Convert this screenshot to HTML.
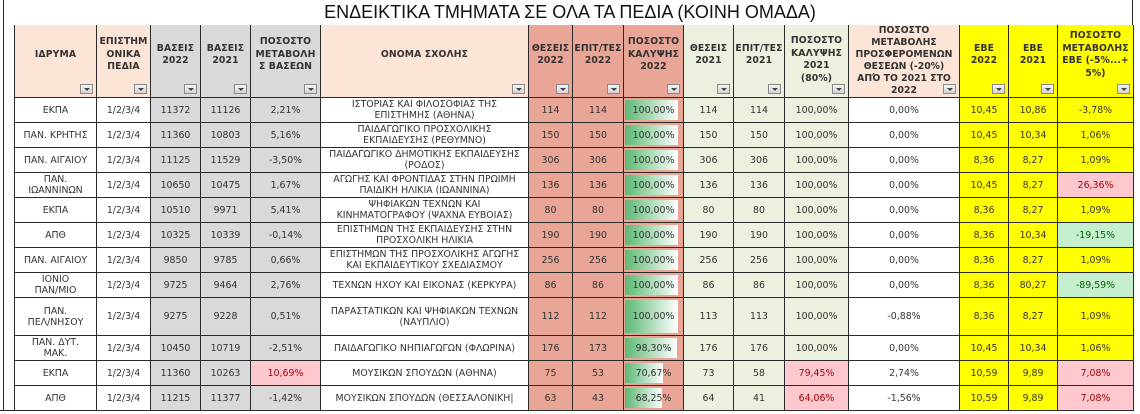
<!DOCTYPE html>
<html><head><meta charset="utf-8"><style>
*{margin:0;padding:0;box-sizing:border-box}
body{width:1140px;height:414px;background:#fff;position:relative;overflow:hidden;font-family:"DejaVu Sans","Liberation Sans",sans-serif;color:#333}
.title{position:absolute;left:0;width:1140px;top:2px;text-align:center;font-family:"Liberation Sans",sans-serif;font-size:18px;color:#111}
.lb{position:absolute;left:3px;top:0;width:1px;height:411px;background:#222}
.bt{position:absolute;left:0;top:410px;width:16px;height:1px;background:#222}
.rb{position:absolute;left:1132px;top:0;width:1px;height:26px;background:#222}
table{position:absolute;left:14px;top:25px;border-collapse:collapse;table-layout:fixed}
td{border:1px solid #2a2a2a;text-align:center;vertical-align:middle;font-size:9.4px;line-height:11px;height:25px;padding:0 1px;overflow:hidden;white-space:nowrap}
thead td{border-top:none;height:72px;font-weight:bold;font-size:9.3px;line-height:12.5px;position:relative;padding:0 0 12px;color:#333;letter-spacing:0.1px}
.ar{position:absolute;right:3px;bottom:3px;width:13px;height:10px;background:linear-gradient(#f4f4f4,#d4d4d4);border:1px solid #8a8a8a}
.ar:after{content:"";position:absolute;left:3px;top:3px;border-left:3px solid transparent;border-right:3px solid transparent;border-top:3px solid #444}
.pe{background:#fce4d6}.gr{background:#d9d9d9}.sa{background:#e9a595}.lg{background:#ebf1de}.ye{background:#ffff00}.wh{background:#fff}
.pk{background:#ffc7ce;color:#9c0006}.gn{background:#c6efce;color:#006100}
td.bar{position:relative;padding:0}
.bar i{position:absolute;left:1px;top:2px;bottom:2px;background:linear-gradient(90deg,#5cb874,#ffffff)}
.bar span{position:relative}
td.w{line-height:11px}
tr.tall td{height:38px}
</style></head><body>
<div class="title">ΕΝΔΕΙΚΤΙΚΑ ΤΜΗΜΑΤΑ ΣΕ ΟΛΑ ΤΑ ΠΕΔΙΑ (ΚΟΙΝΗ ΟΜΑΔΑ)</div>
<div class="lb"></div><div class="bt"></div><div class="rb"></div>
<table>
<colgroup><col style="width:82px"><col style="width:54px"><col style="width:50px"><col style="width:50px"><col style="width:70px"><col style="width:208px"><col style="width:44px"><col style="width:51px"><col style="width:60px"><col style="width:50px"><col style="width:51px"><col style="width:64px"><col style="width:111px"><col style="width:49px"><col style="width:49px"><col style="width:76px"></colgroup>
<thead><tr>
<td class="pe">ΙΔΡΥΜΑ<div class="ar"></div></td>
<td class="pe">ΕΠΙΣΤΗΜ<br>ΟΝΙΚΑ<br>ΠΕΔΙΑ<div class="ar"></div></td>
<td class="gr">ΒΑΣΕΙΣ<br>2022<div class="ar"></div></td>
<td class="gr">ΒΑΣΕΙΣ<br>2021<div class="ar"></div></td>
<td class="gr">ΠΟΣΟΣΤΟ<br>ΜΕΤΑΒΟΛΗ<br>Σ ΒΑΣΕΩΝ<div class="ar"></div></td>
<td class="pe">ΟΝΟΜΑ ΣΧΟΛΗΣ<div class="ar"></div></td>
<td class="sa">ΘΕΣΕΙΣ<br>2022<div class="ar"></div></td>
<td class="sa">ΕΠΙΤ/ΤΕΣ<br>2022<div class="ar"></div></td>
<td class="sa">ΠΟΣΟΣΤΟ<br>ΚΑΛΥΨΗΣ<br>2022<div class="ar"></div></td>
<td class="lg">ΘΕΣΕΙΣ<br>2021<div class="ar"></div></td>
<td class="lg">ΕΠΙΤ/ΤΕΣ<br>2021<div class="ar"></div></td>
<td class="lg" style="padding-bottom:2px">ΠΟΣΟΣΤΟ<br>ΚΑΛΥΨΗΣ<br>2021<br>(80%)<div class="ar"></div></td>
<td class="pe" style="padding-bottom:0;line-height:12px;letter-spacing:0">ΠΟΣΟΣΤΟ<br>ΜΕΤΑΒΟΛΗΣ<br>ΠΡΟΣΦΕΡΟΜΕΝΩΝ<br>ΘΕΣΕΩΝ (-20%)<br>ΑΠΌ ΤΟ 2021 ΣΤΟ<br>2022<div class="ar"></div></td>
<td class="ye">ΕΒΕ<br>2022<div class="ar"></div></td>
<td class="ye">ΕΒΕ<br>2021<div class="ar"></div></td>
<td class="ye">ΠΟΣΟΣΤΟ<br>ΜΕΤΑΒΟΛΗΣ<br>ΕΒΕ (-5%...+<br>5%)<div class="ar"></div></td>
</tr></thead>
<tbody>
<tr><td class="wh">ΕΚΠΑ</td><td class="wh">1/2/3/4</td><td class="gr">11372</td><td class="gr">11126</td><td class="gr">2,21%</td><td class="wh w">ΙΣΤΟΡΙΑΣ ΚΑΙ ΦΙΛΟΣΟΦΙΑΣ ΤΗΣ<br>ΕΠΙΣΤΗΜΗΣ (ΑΘΗΝΑ)</td><td class="sa">114</td><td class="sa">114</td><td class="sa bar"><i style="width:53px"></i><span>100,00%</span></td><td class="lg">114</td><td class="lg">114</td><td class="lg">100,00%</td><td class="wh">0,00%</td><td class="ye">10,45</td><td class="ye">10,86</td><td class="ye">-3,78%</td></tr>
<tr><td class="wh">ΠΑΝ. ΚΡΗΤΗΣ</td><td class="wh">1/2/3/4</td><td class="gr">11360</td><td class="gr">10803</td><td class="gr">5,16%</td><td class="wh w">ΠΑΙΔΑΓΩΓΙΚΟ ΠΡΟΣΧΟΛΙΚΗΣ<br>ΕΚΠΑΙΔΕΥΣΗΣ (ΡΕΘΥΜΝΟ)</td><td class="sa">150</td><td class="sa">150</td><td class="sa bar"><i style="width:53px"></i><span>100,00%</span></td><td class="lg">150</td><td class="lg">150</td><td class="lg">100,00%</td><td class="wh">0,00%</td><td class="ye">10,45</td><td class="ye">10,34</td><td class="ye">1,06%</td></tr>
<tr><td class="wh">ΠΑΝ. ΑΙΓΑΙΟΥ</td><td class="wh">1/2/3/4</td><td class="gr">11125</td><td class="gr">11529</td><td class="gr">-3,50%</td><td class="wh w">ΠΑΙΔΑΓΩΓΙΚΟ ΔΗΜΟΤΙΚΗΣ ΕΚΠΑΙΔΕΥΣΗΣ<br>(ΡΟΔΟΣ)</td><td class="sa">306</td><td class="sa">306</td><td class="sa bar"><i style="width:53px"></i><span>100,00%</span></td><td class="lg">306</td><td class="lg">306</td><td class="lg">100,00%</td><td class="wh">0,00%</td><td class="ye">8,36</td><td class="ye">8,27</td><td class="ye">1,09%</td></tr>
<tr><td class="wh w">ΠΑΝ.<br>ΙΩΑΝΝΙΝΩΝ</td><td class="wh">1/2/3/4</td><td class="gr">10650</td><td class="gr">10475</td><td class="gr">1,67%</td><td class="wh w">ΑΓΩΓΗΣ ΚΑΙ ΦΡΟΝΤΙΔΑΣ ΣΤΗΝ ΠΡΩΙΜΗ<br>ΠΑΙΔΙΚΗ ΗΛΙΚΙΑ (ΙΩΑΝΝΙΝΑ)</td><td class="sa">136</td><td class="sa">136</td><td class="sa bar"><i style="width:53px"></i><span>100,00%</span></td><td class="lg">136</td><td class="lg">136</td><td class="lg">100,00%</td><td class="wh">0,00%</td><td class="ye">10,45</td><td class="ye">8,27</td><td class="pk">26,36%</td></tr>
<tr><td class="wh">ΕΚΠΑ</td><td class="wh">1/2/3/4</td><td class="gr">10510</td><td class="gr">9971</td><td class="gr">5,41%</td><td class="wh w">ΨΗΦΙΑΚΩΝ ΤΕΧΝΩΝ ΚΑΙ<br>ΚΙΝΗΜΑΤΟΓΡΑΦΟΥ (ΨΑΧΝΑ ΕΥΒΟΙΑΣ)</td><td class="sa">80</td><td class="sa">80</td><td class="sa bar"><i style="width:53px"></i><span>100,00%</span></td><td class="lg">80</td><td class="lg">80</td><td class="lg">100,00%</td><td class="wh">0,00%</td><td class="ye">8,36</td><td class="ye">8,27</td><td class="ye">1,09%</td></tr>
<tr><td class="wh">ΑΠΘ</td><td class="wh">1/2/3/4</td><td class="gr">10325</td><td class="gr">10339</td><td class="gr">-0,14%</td><td class="wh w">ΕΠΙΣΤΗΜΩΝ ΤΗΣ ΕΚΠΑΙΔΕΥΣΗΣ ΣΤΗΝ<br>ΠΡΟΣΧΟΛΙΚΗ ΗΛΙΚΙΑ</td><td class="sa">190</td><td class="sa">190</td><td class="sa bar"><i style="width:53px"></i><span>100,00%</span></td><td class="lg">190</td><td class="lg">190</td><td class="lg">100,00%</td><td class="wh">0,00%</td><td class="ye">8,36</td><td class="ye">10,34</td><td class="gn">-19,15%</td></tr>
<tr><td class="wh">ΠΑΝ. ΑΙΓΑΙΟΥ</td><td class="wh">1/2/3/4</td><td class="gr">9850</td><td class="gr">9785</td><td class="gr">0,66%</td><td class="wh w">ΕΠΙΣΤΗΜΩΝ ΤΗΣ ΠΡΟΣΧΟΛΙΚΗΣ ΑΓΩΓΗΣ<br>ΚΑΙ ΕΚΠΑΙΔΕΥΤΙΚΟΥ ΣΧΕΔΙΑΣΜΟΥ</td><td class="sa">256</td><td class="sa">256</td><td class="sa bar"><i style="width:53px"></i><span>100,00%</span></td><td class="lg">256</td><td class="lg">256</td><td class="lg">100,00%</td><td class="wh">0,00%</td><td class="ye">8,36</td><td class="ye">8,27</td><td class="ye">1,09%</td></tr>
<tr><td class="wh w">ΙΟΝΙΟ<br>ΠΑΝ/ΜΙΟ</td><td class="wh">1/2/3/4</td><td class="gr">9725</td><td class="gr">9464</td><td class="gr">2,76%</td><td class="wh">ΤΕΧΝΩΝ ΗΧΟΥ ΚΑΙ ΕΙΚΟΝΑΣ (ΚΕΡΚΥΡΑ)</td><td class="sa">86</td><td class="sa">86</td><td class="sa bar"><i style="width:53px"></i><span>100,00%</span></td><td class="lg">86</td><td class="lg">86</td><td class="lg">100,00%</td><td class="wh">0,00%</td><td class="ye">8,36</td><td class="ye">80,27</td><td class="gn">-89,59%</td></tr>
<tr class="tall"><td class="wh w">ΠΑΝ.<br>ΠΕΛ/ΝΗΣΟΥ</td><td class="wh">1/2/3/4</td><td class="gr">9275</td><td class="gr">9228</td><td class="gr">0,51%</td><td class="wh w">ΠΑΡΑΣΤΑΤΙΚΩΝ ΚΑΙ ΨΗΦΙΑΚΩΝ ΤΕΧΝΩΝ<br>(ΝΑΥΠΛΙΟ)</td><td class="sa">112</td><td class="sa">112</td><td class="sa bar"><i style="width:53px"></i><span>100,00%</span></td><td class="lg">113</td><td class="lg">113</td><td class="lg">100,00%</td><td class="wh">-0,88%</td><td class="ye">8,36</td><td class="ye">8,27</td><td class="ye">1,09%</td></tr>
<tr><td class="wh w">ΠΑΝ. ΔΥΤ.<br>ΜΑΚ.</td><td class="wh">1/2/3/4</td><td class="gr">10450</td><td class="gr">10719</td><td class="gr">-2,51%</td><td class="wh">ΠΑΙΔΑΓΩΓΙΚΟ ΝΗΠΙΑΓΩΓΩΝ (ΦΛΩΡΙΝΑ)</td><td class="sa">176</td><td class="sa">173</td><td class="sa bar"><i style="width:52px"></i><span>98,30%</span></td><td class="lg">176</td><td class="lg">176</td><td class="lg">100,00%</td><td class="wh">0,00%</td><td class="ye">10,45</td><td class="ye">10,34</td><td class="ye">1,06%</td></tr>
<tr><td class="wh">ΕΚΠΑ</td><td class="wh">1/2/3/4</td><td class="gr">11360</td><td class="gr">10263</td><td class="pk">10,69%</td><td class="wh">ΜΟΥΣΙΚΩΝ ΣΠΟΥΔΩΝ (ΑΘΗΝΑ)</td><td class="sa">75</td><td class="sa">53</td><td class="sa bar"><i style="width:38px"></i><span>70,67%</span></td><td class="lg">73</td><td class="lg">58</td><td class="pk">79,45%</td><td class="wh">2,74%</td><td class="ye">10,59</td><td class="ye">9,89</td><td class="pk">7,08%</td></tr>
<tr><td class="wh">ΑΠΘ</td><td class="wh">1/2/3/4</td><td class="gr">11215</td><td class="gr">11377</td><td class="gr">-1,42%</td><td class="wh">ΜΟΥΣΙΚΩΝ ΣΠΟΥΔΩΝ (ΘΕΣΣΑΛΟΝΙΚΗ|</td><td class="sa">63</td><td class="sa">43</td><td class="sa bar"><i style="width:37px"></i><span>68,25%</span></td><td class="lg">64</td><td class="lg">41</td><td class="pk">64,06%</td><td class="wh">-1,56%</td><td class="ye">10,59</td><td class="ye">9,89</td><td class="pk">7,08%</td></tr>
</tbody></table>
</body></html>
